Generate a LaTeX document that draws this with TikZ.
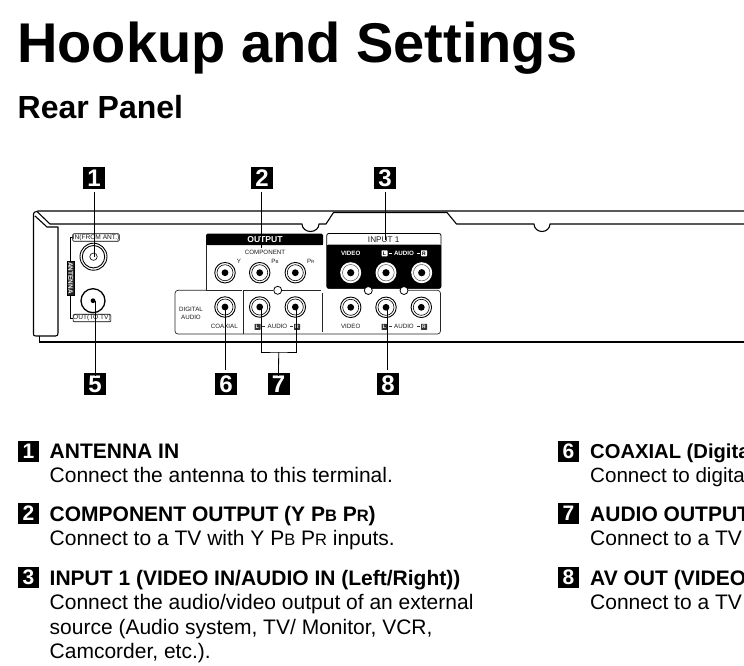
\documentclass[tikz,border=0pt]{standalone}
\usepackage{fontspec}
\setmainfont{Liberation Sans}
\newcommand{\fs}[1]{\fontsize{#1}{#1}\selectfont}
\tikzset{
  chassis/.style={draw=black,line width=1.1pt,line join=round},
  thick line/.style={draw=black,line width=1.8pt},
  leader/.style={draw=black,line width=0.8pt},
  bigbadge/.style={fill=black,text=white,font=\fs{24}\bfseries,minimum width=22,minimum height=22,inner sep=0},
  smallbadge/.style={fill=black,text=white,font=\fs{21}\bfseries,minimum width=21,minimum height=21,inner sep=0},
  heading/.style={anchor=base west,inner sep=0,font=\fs{21}\bfseries},
  body/.style={anchor=base west,inner sep=0,font=\fs{21}},
  tiny/.style={inner sep=0,text=black!90,font=\fs{6.2}},
  tag/.style={draw=black,line width=0.6pt,rounded corners=1pt,fill=white,inner sep=0,text=black!90,font=\fs{6.6}},
  panelline/.style={draw=black!85,line width=0.7pt},
  hole/.style={circle,draw=black,fill=white,line width=0.8pt,minimum size=8,inner sep=0},
  jackw/.style={circle,draw=black,fill=white,line width=0.9pt,minimum size=20.5,inner sep=0},
  boxw/.style={fill=white,text=black,inner sep=0,minimum size=6,rounded corners=0.6pt,font=\fs{5}\bfseries},
  boxk/.style={fill=black!80,text=white,inner sep=0,minimum size=6,rounded corners=0.4pt,font=\fs{5}\bfseries}
}
\newcommand{\jack}[3]{%
  \node[jackw] (#1) at (#2,#3) {};
  \draw[line width=0.6pt] (#1.center) circle (8);
  \fill[black] (#1.center) circle (3.4);
}
\newcommand{\jackb}[3]{%
  \node[circle,fill=white,minimum size=21,inner sep=0] (#1) at (#2,#3) {};
  \draw[black!70,line width=0.5pt] (#1.center) circle (8.2);
  \fill[black] (#1.center) circle (3.6);
}
\begin{document}
\begin{tikzpicture}[x=1pt,y=-1pt]
\useasboundingbox (0,0) rectangle (744,665);
\fill[white] (0,0) rectangle (744,665);
% titles
\node[anchor=base west,inner sep=0,font=\fs{56}\bfseries] (title) at (17,62.5) {Hookup and Settings};
\node[anchor=base west,inner sep=0,font=\fs{32}\bfseries] (sub) at (17.5,118) {Rear Panel};
% chassis
\draw[chassis] (744,211) -- (38,211) .. controls (35,211) and (33,212.5) .. (33.5,216) -- (33.5,334) .. controls (33.5,335.5) and (34,336) .. (36,336) -- (55.5,336) .. controls (57.5,336) and (58,335) .. (58,333) -- (58,227) -- (47,227) -- (35,216);
\draw[chassis] (37.5,212) -- (50,224) -- (302,224) arc[start angle=180,end angle=0,x radius=8.5,y radius=7.5] -- (326,224) -- (333.5,212.5) -- (447,212.5) -- (456.5,224) -- (534,224) arc[start angle=180,end angle=0,x radius=8,y radius=7.5] -- (744,224);
\draw[thick line] (39.5,336) -- (39.5,341.8) -- (744,341.8);
% white lower panel
\draw[panelline,rounded corners=3pt] (206,290.3) -- (175,290.3) -- (175,334) -- (440.5,334) -- (440.5,290.3) -- (408,290.3);
\draw[panelline] (206,290.3) -- (242,290.3) (243,290.3) -- (273,290.3) (282,290.3) -- (321,290.3);
\draw[panelline] (243,291) -- (243,334);
\draw[panelline] (322.5,293) -- (322.5,332);
% OUTPUT panel
\draw[panelline] (206,244) -- (206,290);
\fill[black,rounded corners=1.5pt] (206,233.5) rectangle (323,245);
\fill[black] (206,240) rectangle (323,244.5);
\node[inner sep=0,text=white,font=\fs{8.6}\bfseries] (outlab) at (265,239.2) {OUTPUT};
% INPUT 1 panel
\draw[draw=black,fill=white,line width=0.8pt,rounded corners=2pt] (326.8,233.5) rectangle (441,288.3);
\fill[black,rounded corners=2pt] (326.8,244.5) rectangle (441,288.6);
\fill[black] (326.8,244.5) rectangle (441,250);
% holes
\node[hole] (h1) at (277.7,290.3) {};
\node[hole] (h2) at (368.3,290.5) {};
\node[hole] (h3) at (404,290.5) {};
% jacks
\node[circle,draw=black,fill=white,line width=0.9pt,minimum size=27,inner sep=0] (j1) at (93.5,256.7) {};
\draw[line width=0.9pt] (j1.center) circle (11.2);
\draw[line width=0.6pt] (j1.center) circle (3.7);
\node[circle,draw=black,fill=white,line width=1.3pt,minimum size=24,inner sep=0] (j5) at (93,300.7) {};
\fill (j5.center) circle (2.4);
\jack{jy}{225}{272.7}
\jack{jb}{259.7}{272.7}
\jack{jr}{295.3}{272.7}
\jack{j6}{225}{307}
\jack{jl}{259.7}{307}
\jack{jrr}{295.3}{307}
\jack{jv}{350.7}{307.3}
\jack{j8}{386}{307.3}
\jack{jar}{421.3}{307.3}
\jackb{iv}{350.7}{272.7}
\jackb{il}{386}{272.7}
\jackb{ir}{421.7}{272.7}
% antenna tags
\draw[line width=0.6pt] (74,237.5) -- (70.5,237.5) -- (70.5,318) -- (74,318);
\node[draw=black,fill=black!85,text=white,rotate=-90,inner sep=0,minimum height=7.4,minimum width=34,font=\fs{6.4}\bfseries] (ant) at (70.5,278) {ANTENNA};
\node[tag,minimum width=44,minimum height=7.5] (in) at (96,237.5) {IN(FROM ANT.)};
\node[tag,minimum width=36,minimum height=7.5] (out) at (92,318) {OUT(TO TV)};
% panel labels
\node[tiny] (comp) at (265,252.3) {COMPONENT};
\node[tiny] (ly) at (239,261) {Y};
\node[tiny] (lb) at (275,261) {P\fs{4.5}B};
\node[tiny] (lr) at (310.7,261) {P\fs{4.5}R};
\node[tiny,align=center] (dig) at (191,313.5) {DIGITAL\\[1.2pt]AUDIO};
\node[tiny] (coax) at (224.3,326.8) {COAXIAL};
\node[tiny] (vid2) at (350.7,326.8) {VIDEO};
\node[inner sep=0,text=black!90,font=\fs{8.2}] (inp) at (383.7,239.3) {INPUT 1};
\node[inner sep=0,text=white,font=\fs{6.2}\bfseries] (vid1) at (350.7,253.3) {VIDEO};
% L-AUDIO-R labels
\node[inner sep=0,text=white,font=\fs{6.2}\bfseries] (au1) at (404,253.3) {AUDIO};
\node[boxw] (l1) at (384.5,253.3) {L};
\node[boxw] (r1) at (424,253.3) {R};
\draw[white,line width=0.8pt] (l1.east)+(1,0) -- +(4.2,0) (r1.west)+(-1,0) -- +(-4.2,0);
\node[tiny] (au2) at (277.5,326.8) {AUDIO};
\node[boxk] (l2) at (257.5,326.8) {L};
\node[boxk] (r2) at (297,326.8) {R};
\draw[black!80,line width=0.8pt] (l2.east)+(1,0) -- +(4.2,0) (r2.west)+(-1,0) -- +(-4.2,0);
\node[tiny] (au3) at (404,326.8) {AUDIO};
\node[boxk] (l3) at (384.5,326.8) {L};
\node[boxk] (r3) at (424,326.8) {R};
\draw[black!80,line width=0.8pt] (l3.east)+(1,0) -- +(4.2,0) (r3.west)+(-1,0) -- +(-4.2,0);
% badges
\node[bigbadge] (b1) at (94,178) {1};
\node[bigbadge] (b2) at (262,178) {2};
\node[bigbadge] (b3) at (385,178) {3};
\node[bigbadge] (b5) at (95,384) {5};
\node[bigbadge] (b6) at (226,384) {6};
\node[bigbadge] (b7) at (278.5,384) {7};
\node[bigbadge] (b8) at (388,384) {8};
% leaders
\coordinate (e2) at (261.3,248);
\coordinate (e3) at (385.3,240);
\coordinate (t7) at (278.7,352);
\draw[leader] (b1.south)+(0,3) -- (j1.center -| b1);
\draw[leader] (e2 |- b2.south)+(0,3) -- (e2);
\draw[leader] (e3 |- b3.south)+(0,3) -- (e3);
\draw[leader] (j5.center -| b5)+(0,0) -- ([yshift=-3]b5.north);
\draw[leader] (225.5,307) -- (225.5,370);
\draw[leader] (jl.center) ++(1.5,0) |- (t7) -| ([xshift=1]jrr.center);
\draw[leader] (t7) -- ([yshift=-3]b7.north);
\draw[leader] (387.3,307.3) -- (387.3,370);
% description list
\node[smallbadge] (d1) at (28.5,451) {1};
\node[heading] (t1) at (49.5,458) {ANTENNA IN};
\node[body] (x1) at (49.5,482) {Connect the antenna to this terminal.};
\node[smallbadge] (d2) at (28.5,513) {2};
\node[heading] (t2) at (49.5,521.5) {COMPONENT OUTPUT (Y P{\fs{16.5}B} P{\fs{16.5}R})};
\node[body] (x2) at (49.5,545) {Connect to a TV with Y P{\fs{16.5}B} P{\fs{16.5}R} inputs.};
\node[smallbadge] (d3) at (28.5,577) {3};
\node[heading] (t3) at (49.5,585) {INPUT 1 (VIDEO IN/AUDIO IN (Left/Right))};
\node[body] (x3a) at (49.5,609) {Connect the audio/video output of an external};
\node[body] (x3b) at (49.5,634) {source (Audio system, TV/ Monitor, VCR,};
\node[body] (x3c) at (49.5,658) {Camcorder, etc.).};
\node[smallbadge] (d6) at (568.5,451) {6};
\node[heading,font=\fs{20.2}\bfseries] (t6) at (590,458) {COAXIAL (Digita};
\node[body,font=\fs{20.6}] (x6) at (590,482) {Connect to digita};
\node[smallbadge] (d7) at (568.5,513) {7};
\node[heading] (t7b) at (590,521.5) {AUDIO OUTPUT};
\node[body] (x7) at (590,545) {Connect to a TV};
\node[smallbadge] (d8) at (568.5,577) {8};
\node[heading] (t8) at (590,585) {AV OUT (VIDEO};
\node[body] (x8) at (590,609) {Connect to a TV};
\end{tikzpicture}
\end{document}
